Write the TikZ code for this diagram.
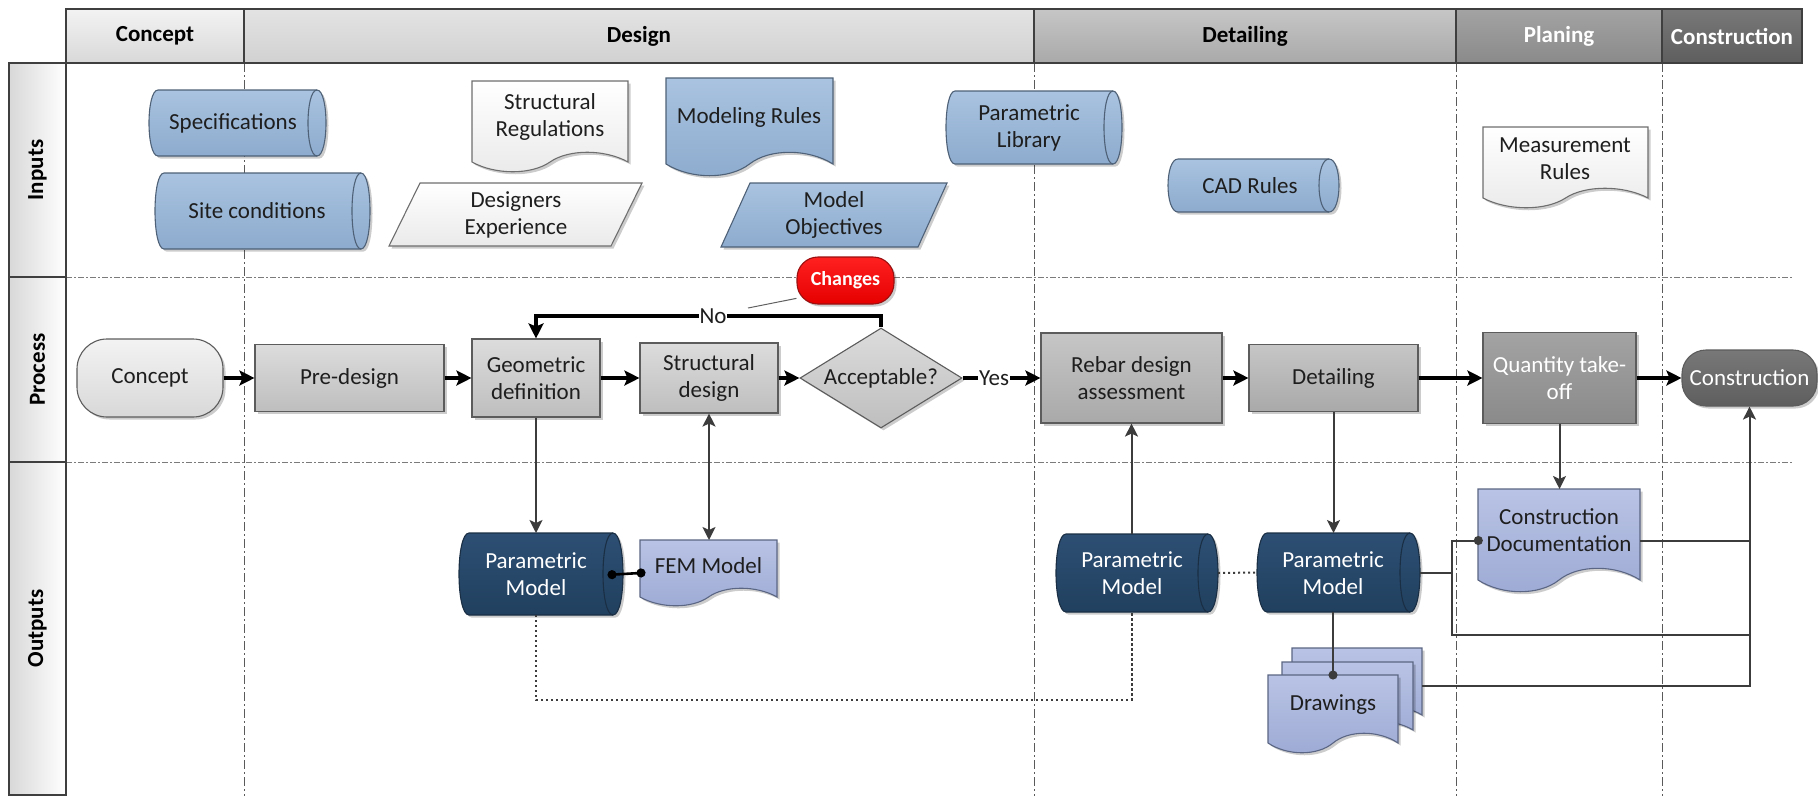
\documentclass[tikz,border=0pt]{standalone}
\usepackage{fontspec}
\setmainfont{Carlito}
\usetikzlibrary{shapes.geometric,arrows.meta,shadows}
\definecolor{blueT}{HTML}{A9C3E0}
\definecolor{blueB}{HTML}{8DABCE}
\definecolor{blueL}{HTML}{4E6177}
\definecolor{wT}{HTML}{FFFFFF}
\definecolor{wB}{HTML}{EAEAEA}
\definecolor{wL}{HTML}{6E6E6E}
\definecolor{gT}{HTML}{DCDCDC}
\definecolor{gB}{HTML}{BEBEBE}
\definecolor{gL}{HTML}{5C5C5C}
\definecolor{gtT}{HTML}{C6C6C6}
\definecolor{gtB}{HTML}{A9A9A9}
\definecolor{ghT}{HTML}{A3A3A3}
\definecolor{ghB}{HTML}{8A8A8A}
\definecolor{gfT}{HTML}{787878}
\definecolor{gfB}{HTML}{5E5E5E}
\definecolor{cT}{HTML}{F3F3F3}
\definecolor{cB}{HTML}{D8D8D8}
\definecolor{nT}{HTML}{2D4F73}
\definecolor{nB}{HTML}{21405F}
\definecolor{nL}{HTML}{1A2E44}
\definecolor{pT}{HTML}{B9C3E5}
\definecolor{pB}{HTML}{9DAAD4}
\definecolor{pL}{HTML}{5B6684}
\definecolor{rT}{HTML}{FF2020}
\definecolor{rB}{HTML}{E60000}
\definecolor{rL}{HTML}{9A1010}
\definecolor{txtc}{HTML}{1E1E1E}
\definecolor{connc}{HTML}{3C3C3C}
\definecolor{dashc}{HTML}{5A5A5A}
\definecolor{hdrL}{HTML}{3F3F3F}
\newcommand\myfs{\fontsize{23}{27}\selectfont}
\newcommand\mycyl[8]{%
  \path[#2] ({#3+#7},#4) -- ({#5-#7},#4) .. controls ({#5+#7/3},#4) and ({#5+#7/3},#6) .. ({#5-#7},#6)
     -- ({#3+#7},#6) .. controls ({#3-#7/3},#6) and ({#3-#7/3},#4) .. ({#3+#7},#4) -- cycle;
  \draw[draw=#8, line width=1.1pt] ({#5-#7},#4) .. controls ({#5-7*#7/3},#4) and ({#5-7*#7/3},#6) .. ({#5-#7},#6);
  \node[box, minimum width={(#5-#3)*1pt}, minimum height={(#6-#4)*1pt}] (#1) at ({(#3+#5)/2},{(#4+#6)/2}) {};
}
\newcommand\mydoc[7]{%
  \path[#2] (#3,#4) -- (#5,#4) -- (#5,#6)
     .. controls ({#3+0.85*(#5-#3)},{#6-1.3*#7}) and ({#3+0.62*(#5-#3)},{#6-1.3*#7}) .. ({#3+0.5*(#5-#3)},#6)
     .. controls ({#3+0.38*(#5-#3)},{#6+1.3*#7}) and ({#3+0.15*(#5-#3)},{#6+1.3*#7}) .. (#3,#6) -- cycle;
  \node[box, minimum width={(#5-#3)*1pt}, minimum height={(#6+#7-#4)*1pt}] (#1) at ({(#3+#5)/2},{(#4+#6+#7)/2}) {};
}
\newcommand\mypara[7]{%
  \path[#2] ({#3+#7},#4) -- (#5,#4) -- ({#5-#7},#6) -- (#3,#6) -- cycle;
  \node[box, minimum width={(#5-#3)*1pt}, minimum height={(#6-#4)*1pt}] (#1) at ({(#3+#5)/2},{(#4+#6)/2}) {};
}
\begin{document}
\begin{tikzpicture}[x=1pt,y=-1pt,
  box/.style={inner sep=0, outer sep=0, draw=none, fill=none, shape=rectangle},
  sh/.style={drop shadow={shadow xshift=2.5pt,shadow yshift=-2.5pt,opacity=0.2,fill=black}},
  bluesh/.style={sh, draw=blueL, line width=1.1pt, top color=blueT, bottom color=blueB},
  whitesh/.style={sh, draw=wL, line width=1.1pt, top color=wT, bottom color=wB},
  navysh/.style={sh, draw=nL, line width=1.1pt, top color=nT, bottom color=nB},
  perish/.style={sh, draw=pL, line width=1.1pt, top color=pT, bottom color=pB},
  txt/.style={inner sep=0, align=center, font=\myfs, text=txtc},
  wtxt/.style={inner sep=0, align=center, font=\myfs, text=white},
  procbase/.style={sh, draw=gL, line width=1.1pt, inner sep=0, align=center, font=\myfs, text=txtc},
  proc/.style={procbase, top color=gT, bottom color=gB},
  procdark/.style={procbase, top color=gtT, bottom color=gtB},
  procdarker/.style={procbase, top color=ghT, bottom color=ghB, text=white},
  termlight/.style={procbase, top color=cT, bottom color=cB, rounded corners=30pt},
  termdark/.style={procbase, top color=gfT, bottom color=gfB, text=white, rounded corners=24pt},
  decision/.style={procbase, shape=diamond, aspect=1.62, top color=gT, bottom color=gB},
  hdr/.style={draw=hdrL, line width=1.6pt, inner sep=0, minimum height=54pt, font=\myfs\bfseries, text=black},
  lanecell/.style={draw=hdrL, line width=1.3pt, left color=cB, right color=wT},
  lanetxt/.style={inner sep=0, font=\myfs\bfseries, text=black, rotate=90},
  vsep/.style={draw=dashc, line width=0.9pt, dash pattern=on 9pt off 3pt on 2pt off 3pt},
  hsep/.style={draw=dashc!80, line width=0.9pt, dash pattern=on 6pt off 2pt on 2pt off 2pt},
  flow/.style={line width=3.3pt, draw=black, -{Stealth[length=15pt,width=15pt,inset=3pt]}},
  conn/.style={line width=2pt, draw=connc},
  arr/.style={conn, -{Stealth[length=13pt,width=13pt,inset=3pt]}},
  dotline/.style={line width=2pt, draw=connc, dash pattern=on 2.2pt off 2.8pt},
  lbl/.style={fill=white, inner sep=1pt, font=\myfs, text=txtc},
  callout/.style={sh, draw=rL, line width=1.1pt, top color=rT, bottom color=rB, rounded corners=21pt, inner sep=0,
     font=\fontsize{20}{24}\selectfont\bfseries, text=white},
  pointer/.style={draw=gray!75!black, line width=1pt}
]
\useasboundingbox (0,0) rectangle (1818,796);
% lane separators
\foreach \xx in {244,1034,1456,1662} \draw[vsep] (\xx,63) -- (\xx,796);
\draw[hsep] (66,277) -- (1792,277);
\draw[hsep] (66,462) -- (1792,462);
% header
\node[hdr, top color=cT, bottom color=cB, minimum width=178pt] (hconcept) at (155,36) {Concept};
\node[hdr, top color=gT!80!white, bottom color=gT!95!black, minimum width=790pt] (hdesign) at (639,36) {Design};
\node[hdr, top color=gtT, bottom color=gtB, minimum width=422pt] (hdetail) at (1245,36) {Detailing};
\node[hdr, top color=ghT, bottom color=ghB, minimum width=206pt, text=white] (hplan) at (1559,36) {Planing};
\node[hdr, top color=gfT, bottom color=gfB, minimum width=140pt, text=white] (hcons) at (1732,36) {Construction};
% lane labels
\path[lanecell] (9,63) rectangle (66,277);
\path[lanecell] (9,277) rectangle (66,462);
\path[lanecell] (9,462) rectangle (66,795);
\node[lanetxt] (linputs) at (37.5,170) {Inputs};
\node[lanetxt] (lprocess) at (37.5,369.5) {Process};
\node[lanetxt] (loutputs) at (37.5,628.5) {Outputs};
% inputs
\mycyl{spec}{bluesh}{149}{90}{326}{156}{9}{blueL}
\node[txt] (spec-t) at (233,123) {Specifications};
\mycyl{site}{bluesh}{155}{173}{370}{249}{9}{blueL}
\node[txt] (site-t) at (257,211) {Site conditions};
\mydoc{sreg}{whitesh}{472}{81}{628}{162}{10}
\node[txt] (sreg-t) at (550,117) {Structural\\Regulations};
\mypara{dexp}{whitesh}{389}{183}{642}{246}{31}
\node[txt] (dexp-t) at (516,215) {Designers\\Experience};
\mydoc{mrul}{bluesh}{666}{78}{833}{164}{12}
\node[txt] (mrul-t) at (749,117) {Modeling Rules};
\mypara{mobj}{bluesh}{721}{183}{947}{247}{29}
\node[txt] (mobj-t) at (834,215) {Model\\Objectives};
\mycyl{plib}{bluesh}{946}{91}{1122}{164}{9}{blueL}
\node[txt] (plib-t) at (1029,128) {Parametric\\Library};
\mycyl{cad}{bluesh}{1168}{159}{1339}{212}{10}{blueL}
\node[txt] (cad-t) at (1250,186) {CAD Rules};
\mydoc{meas}{whitesh}{1483}{127}{1648}{198}{10}
\node[txt] (meas-t) at (1565,159) {Measurement\\Rules};
% process
\node[termlight, minimum width=146pt, minimum height=78pt] (concept) at (150,378) {Concept};
\node[proc, minimum width=189pt, minimum height=67pt] (pre) at (349.5,378) {Pre-design};
\node[proc, minimum width=128pt, minimum height=78pt] (geo) at (536,378) {Geometric\\definition};
\node[proc, minimum width=138pt, minimum height=70pt] (struct) at (709,378) {Structural\\design};
\node[decision, minimum width=162pt, minimum height=100pt] (accept) at (881,378) {Acceptable?};
\node[procdark, minimum width=181pt, minimum height=90pt] (rebar) at (1131.5,378) {Rebar design\\assessment};
\node[procdark, minimum width=169pt, minimum height=67pt] (det) at (1333.5,378) {Detailing};
\node[procdarker, minimum width=153pt, minimum height=91pt] (qto) at (1559.5,378) {Quantity take-\\off};
\node[termdark, minimum width=135pt, minimum height=56pt] (cons) at (1749.5,378) {Construction};
\draw[flow] (concept.east) -- (pre.west);
\draw[flow] (pre.east) -- (geo.west);
\draw[flow] (geo.east) -- (struct.west);
\draw[flow] (struct.east) -- (accept.west);
\draw[flow] (accept.east) -- (rebar.west);
\draw[flow] (rebar.east) -- (det.west);
\draw[flow] (det.east) -- (qto.west);
\draw[flow] (qto.east) -- (cons.west);
\coordinate (noy) at (0,316);
\draw[flow] (accept.north) |- (geo.north |- noy) -- (geo.north);
\node[lbl] (nolab) at (713,316) {No};
\node[lbl] (yeslab) at (994,378) {Yes};
\node[callout, minimum width=97pt, minimum height=47pt] (chg) at (845.5,280.5) {Changes};
\coordinate (nopt) at (748,308);
\draw[pointer] (chg.200) -- (nopt);
% outputs
\mycyl{pm1}{navysh}{459}{533}{623}{615}{10}{nL}
\node[wtxt] (pm1-t) at (536,574) {Parametric\\Model};
\mydoc{fem}{perish}{640}{540}{777}{597}{9}
\node[txt] (fem-t) at (708.5,566) {FEM Model};
\mycyl{pm2}{navysh}{1056}{534}{1218}{612}{10}{nL}
\node[wtxt] (pm2-t) at (1132,573) {Parametric\\Model};
\mycyl{pm3}{navysh}{1257}{533}{1420}{612}{10}{nL}
\node[wtxt] (pm3-t) at (1333,573) {Parametric\\Model};
\mydoc{cd}{perish}{1478}{489}{1640}{580}{12}
\node[txt] (cd-t) at (1559,530) {Construction\\Documentation};
\mydoc{drwb}{perish}{1292}{648}{1422}{715}{9}
\mydoc{drwm}{perish}{1282}{662}{1413}{730}{9}
\mydoc{drw}{perish}{1268}{675}{1398}{743}{10}
\node[txt] (drw-t) at (1333,705) {Drawings};
% output connectors
\draw[arr] (geo.south) -- (geo.south |- pm1.north);
\draw[conn, {Stealth[length=13pt,width=13pt,inset=3pt]}-{Stealth[length=13pt,width=13pt,inset=3pt]}] (struct.south) -- (struct.south |- fem.north);
\draw[line width=2.6pt, draw=black, {Circle[length=9pt]}-{Circle[length=9pt]}, shorten <=-15.5pt, shorten >=-5.5pt] (pm1.east) -- (fem.west);
\draw[arr] (rebar.south |- pm2.north) -- (rebar.south);
\draw[arr] (det.south) -- (det.south |- pm3.north);
\draw[arr] (qto.south) -- (qto.south |- cd.north);
\coordinate (dl) at (0,700);
\draw[dotline] (pm1-t |- pm1.south) -- (pm1-t |- dl) -| (rebar.south |- pm2.south);
\draw[dotline] (pm2.east) -- (pm3.west);
\draw[conn, -{Circle[length=9pt]}, shorten >=-4.5pt] (drw.north |- pm3.south) -- (drw.north);
\coordinate (bx) at (1452,0);
\coordinate (rx) at (1749.5,0);
\coordinate (by) at (0,635);
\draw[conn] (pm3.east) -- (bx |- pm3.east);
\draw[conn, -{Circle[length=9pt]}, shorten >=-4.8pt] (bx |- pm3.east) |- (cd.west);
\draw[conn] (bx |- pm3.east) |- (rx |- by);
\draw[conn] (cd.east) -- (rx |- cd.east);
\draw[arr] (drwb.east) -| (cons.south);
\end{tikzpicture}
\end{document}
